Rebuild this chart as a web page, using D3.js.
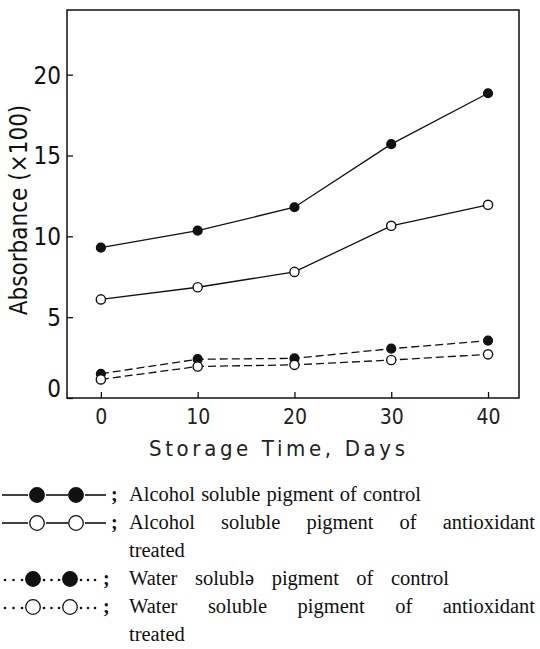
<!DOCTYPE html>
<html><head><meta charset="utf-8">
<script src="https://cdn.jsdelivr.net/npm/d3@7"></script>
<style>body{margin:0;background:#fff}svg{display:block}</style>
</head><body><svg id="c" width="540" height="649"></svg>
<script>
// ---- data ----
const days = [0, 10, 20, 30, 40];
const alcoholControl = [9.3, 10.35, 11.8, 15.7, 18.85];
const alcoholAntioxidant = [6.1, 6.85, 7.8, 10.65, 11.95];
const waterControl = [1.5, 2.4, 2.45, 3.05, 3.55];
const waterAntioxidant = [1.15, 1.95, 2.05, 2.35, 2.7];
const xTicks = [0, 10, 20, 30, 40];
const yTicks = [0, 5, 10, 15, 20];
const xTitle = "Storage  Time, Days";
const yTitle = "Absorbance (×100)";
const legendTexts = [
  "Alcohol soluble pigment of control",
  "Alcohol soluble pigment of antioxidant",
  "treated",
  "Water solublə pigment of control",
  "Water soluble pigment of antioxidant",
  "treated"
];

const series = [
  {values: alcoholControl, filled: true, dashed: false},
  {values: alcoholAntioxidant, filled: false, dashed: false},
  {values: waterControl, filled: true, dashed: true},
  {values: waterAntioxidant, filled: false, dashed: true}
];

const svg = d3.select("#c");
const L = 67, R = 519, T = 10, B = 398;
const x = d3.scaleLinear().domain([-3.5, 43.2]).range([L, R]);
const y = d3.scaleLinear().domain([0, 24]).range([B, T]);
const axisFont = "'Liberation Sans Narrow','DejaVu Sans Condensed','Liberation Sans',sans-serif";

// frame
svg.append("rect").attr("x", L).attr("y", T).attr("width", R - L).attr("height", B - T)
  .attr("fill", "none").attr("stroke", "#111").attr("stroke-width", 1.5);

// axes
const gx = svg.append("g").attr("transform", `translate(0,${B})`)
  .call(d3.axisBottom(x).tickValues(xTicks).tickSizeInner(-6).tickSizeOuter(0).tickPadding(11));
gx.select(".domain").remove();
gx.selectAll("line").attr("stroke", "#111").attr("stroke-width", 1.3);
gx.selectAll("text").attr("font-family", axisFont).attr("font-size", 21).attr("fill", "#222");

const gy = svg.append("g").attr("transform", `translate(${L},0)`)
  .call(d3.axisLeft(y).tickValues(yTicks).tickSizeInner(-6).tickSizeOuter(0).tickPadding(6));
gy.select(".domain").remove();
gy.selectAll("line").attr("stroke", "#111").attr("stroke-width", 1.3);
gy.selectAll("text").attr("font-family", axisFont).attr("font-size", 24).attr("fill", "#111")
  .attr("dy", d => d === 0 ? "-0.05em" : "0.35em");

// titles
svg.append("text").attr("x", 277).attr("y", 456).attr("text-anchor", "middle")
  .attr("font-family", axisFont).attr("font-size", 22).attr("fill", "#222")
  .attr("textLength", 256).attr("lengthAdjust", "spacing").text(xTitle);
svg.append("text").attr("transform", "translate(27,210) rotate(-90)").attr("text-anchor", "middle")
  .attr("font-family", axisFont).attr("font-size", 24).attr("fill", "#111").text(yTitle);

// lines & points
const line = d3.line().x((d, i) => x(days[i])).y(d => y(d));
series.forEach(s => {
  svg.append("path").attr("d", line(s.values)).attr("fill", "none")
    .attr("stroke", "#111").attr("stroke-width", 1.3)
    .attr("stroke-dasharray", s.dashed ? "8,4" : null);
});
series.forEach(s => {
  svg.append("g").selectAll("circle").data(s.values).join("circle")
    .attr("cx", (d, i) => x(days[i])).attr("cy", d => y(d))
    .attr("r", s.filled ? 4.4 : 4.6)
    .attr("fill", s.filled ? "#111" : "#fff")
    .attr("stroke", "#111").attr("stroke-width", 1.4);
});

// legend
const rowY = [495, 523, 551, 579, 607, 635];
const textX = 129;
const legendFont = "'Liberation Serif','Times New Roman',serif";
const symbolRows = [
  {row: 0, filled: true, dashed: false},
  {row: 1, filled: false, dashed: false},
  {row: 3, filled: true, dashed: true},
  {row: 4, filled: false, dashed: true}
];
symbolRows.forEach(s => {
  const g = svg.append("g").attr("transform", `translate(0,${rowY[s.row]})`);
  const cx = s.dashed ? [33, 70] : [37, 76];
  const segs = s.dashed ? [[3, 24], [42, 61], [79, 97]] : [[2, 28], [46, 68], [85, 106]];
  if (s.dashed) {
    segs.forEach(([a, b]) => {
      [0, 1, 2].forEach(k => g.append("circle").attr("cx", a + 2 + k * (b - a - 4) / 2).attr("cy", 1)
        .attr("r", 1.3).attr("fill", "#111"));
    });
  } else {
    segs.forEach(([a, b]) => g.append("line").attr("x1", a).attr("x2", b).attr("y1", 0).attr("y2", 0)
      .attr("stroke", "#111").attr("stroke-width", 1.6));
  }
  cx.forEach(c => g.append("circle").attr("cx", c).attr("cy", 0).attr("r", 7.3)
    .attr("fill", s.filled ? "#111" : "#fff").attr("stroke", "#111").attr("stroke-width", 1.3));
  g.append("text").attr("x", s.dashed ? 103 : 111).attr("y", 6).attr("font-family", legendFont)
    .attr("font-size", 20).attr("fill", "#111").attr("font-weight", "bold").text(";");
});
const targetW = [292, 406, null, 320, 406, null];
legendTexts.forEach((t, i) => {
  const el = svg.append("text").attr("x", textX).attr("y", rowY[i] + 6)
    .attr("font-family", legendFont).attr("font-size", 20.5).attr("fill", "#111").text(t);
  if (targetW[i]) {
    const w = el.node().getComputedTextLength();
    const gaps = t.split(" ").length - 1;
    el.attr("word-spacing", Math.max(0, (targetW[i] - w) / gaps));
  }
});
</script></body></html>
